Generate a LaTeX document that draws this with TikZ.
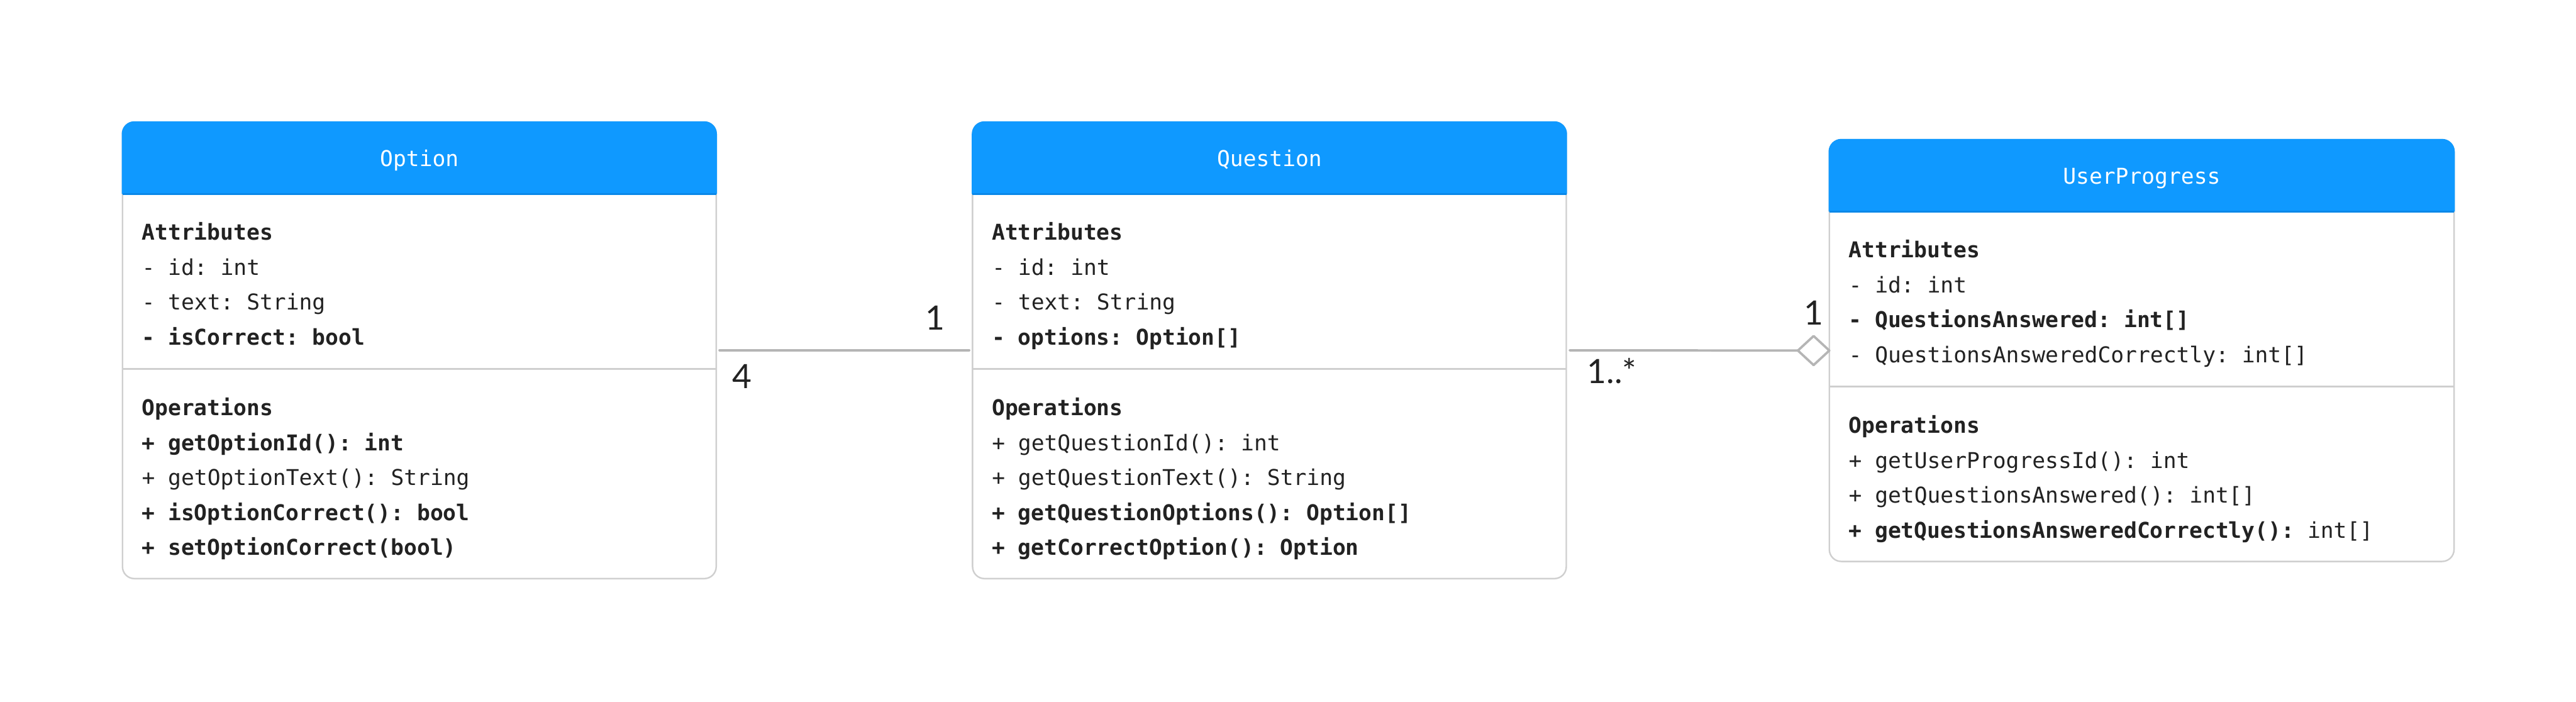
\documentclass[tikz,border=0pt]{standalone}
\usepackage{fontspec}
\setmonofont{DejaVu Sans Mono}
\newfontfamily\multfont{Lato}
\usepackage{tikz}
\usetikzlibrary{positioning,shapes.geometric}
\definecolor{hdblue}{HTML}{0F99FF}
\definecolor{hdedge}{HTML}{0A88E8}
\definecolor{rulec}{HTML}{CFCFCF}
\definecolor{linkc}{HTML}{B5B5B5}
\definecolor{ink}{HTML}{222222}
\tikzset{
  cls/.style={draw=rulec,line width=0.9pt,rounded corners=2.5mm,fill=white,
    inner sep=0pt,outer sep=0pt},
  head/.style={fill=hdblue,draw=hdblue,line width=0.9pt,rounded corners=2.5mm},
  headrule/.style={draw=hdedge,line width=0.9pt},
  sep/.style={draw=rulec,line width=0.9pt},
  ttl/.style={inner sep=0pt,text height=5.3mm,text depth=1.9mm,
    font=\fontsize{13}{16}\selectfont\ttfamily,text=white},
  row/.style={anchor=north west,inner sep=0pt,text height=5.3mm,text depth=1.9mm,
    font=\fontsize{13}{16}\selectfont\ttfamily,text=ink},
  link/.style={draw=linkc,line width=1.4pt,line cap=round},
  agg/.style={diamond,draw=linkc,fill=white,line width=1.4pt,line join=round,
    minimum width=6.6mm,minimum height=6.1mm,inner sep=0pt,outer sep=0pt},
  mult/.style={anchor=base,inner sep=0pt,font=\fontsize{20}{24}\selectfont\multfont,text=ink},
}

\begin{document}
\begin{tikzpicture}
  \useasboundingbox (0,0) rectangle (54.06,-14.72);
  \node[cls,minimum width=124.6mm,minimum height=95.8mm] (opt) at (8.80,-7.35) {};
  \node[cls,minimum width=124.6mm,minimum height=95.8mm] (qst) at (26.64,-7.35) {};
  \node[cls,minimum width=131.1mm,minimum height=88.5mm] (usr) at (44.945,-7.355) {};
  % --- class Option ---
  \filldraw[head] ([yshift=-15.1mm]opt.north west) -- (opt.north west) -- (opt.north east) -- ([yshift=-15.1mm]opt.north east);
  \draw[headrule] ([yshift=-15.1mm]opt.north west) -- ([yshift=-15.1mm]opt.north east);
  \draw[sep] ([yshift=-51.8mm]opt.north west) -- ([yshift=-51.8mm]opt.north east);
  \node[ttl] (optT) at ([yshift=-7.55mm]opt.north) {Option};
  \node[row] (o1) at ([shift={(4mm,-19.4mm)}]opt.north west) {\bfseries Attributes};
  \node[row] (o2) at (o1.south west) {- id: int};
  \node[row] (o3) at (o2.south west) {- text: String};
  \node[row] (o4) at (o3.south west) {\bfseries - isCorrect: bool};
  \node[row] (o5) at ([shift={(4mm,-56.2mm)}]opt.north west) {\bfseries Operations};
  \node[row] (o6) at (o5.south west) {\bfseries + getOptionId(): int};
  \node[row] (o7) at (o6.south west) {+ getOptionText(): String};
  \node[row] (o8) at (o7.south west) {\bfseries + isOptionCorrect(): bool};
  \node[row] (o9) at (o8.south west) {\bfseries + setOptionCorrect(bool)};
  % --- class Question ---
  \filldraw[head] ([yshift=-15.1mm]qst.north west) -- (qst.north west) -- (qst.north east) -- ([yshift=-15.1mm]qst.north east);
  \draw[headrule] ([yshift=-15.1mm]qst.north west) -- ([yshift=-15.1mm]qst.north east);
  \draw[sep] ([yshift=-51.8mm]qst.north west) -- ([yshift=-51.8mm]qst.north east);
  \node[ttl] (qstT) at ([yshift=-7.55mm]qst.north) {Question};
  \node[row] (q1) at ([shift={(4mm,-19.4mm)}]qst.north west) {\bfseries Attributes};
  \node[row] (q2) at (q1.south west) {- id: int};
  \node[row] (q3) at (q2.south west) {- text: String};
  \node[row] (q4) at (q3.south west) {\bfseries - options: Option[]};
  \node[row] (q5) at ([shift={(4mm,-56.2mm)}]qst.north west) {\bfseries Operations};
  \node[row] (q6) at (q5.south west) {+ getQuestionId(): int};
  \node[row] (q7) at (q6.south west) {+ getQuestionText(): String};
  \node[row] (q8) at (q7.south west) {\bfseries + getQuestionOptions(): Option[]};
  \node[row] (q9) at (q8.south west) {\bfseries + getCorrectOption(): Option};
  % --- class UserProgress ---
  \filldraw[head] ([yshift=-15.1mm]usr.north west) -- (usr.north west) -- (usr.north east) -- ([yshift=-15.1mm]usr.north east);
  \draw[headrule] ([yshift=-15.1mm]usr.north west) -- ([yshift=-15.1mm]usr.north east);
  \draw[sep] ([yshift=-51.8mm]usr.north west) -- ([yshift=-51.8mm]usr.north east);
  \node[ttl] (usrT) at ([yshift=-7.55mm]usr.north) {UserProgress};
  \node[row] (u1) at ([shift={(4mm,-19.4mm)}]usr.north west) {\bfseries Attributes};
  \node[row] (u2) at (u1.south west) {- id: int};
  \node[row] (u3) at (u2.south west) {\bfseries - QuestionsAnswered: int[]};
  \node[row] (u4) at (u3.south west) {- QuestionsAnsweredCorrectly: int[]};
  \node[row] (u5) at ([shift={(4mm,-56.2mm)}]usr.north west) {\bfseries Operations};
  \node[row] (u6) at (u5.south west) {+ getUserProgressId(): int};
  \node[row] (u7) at (u6.south west) {+ getQuestionsAnswered(): int[]};
  \node[row] (u8) at (u7.south west) {{\bfseries + getQuestionsAnsweredCorrectly():} int[]};
  % --- associations ---
  \draw[link,shorten <=0.7mm,shorten >=0.7mm] (opt.east) -- (qst.west);
  \node[agg,anchor=east] (aggd) at (usr.west) {};
  \draw[link,shorten <=0.7mm] (qst.east) -- (aggd.west);
  \node[mult] (m4) at ([shift={(5.4mm,-8.0mm)}]opt.east) {4};
  \node[mult] (m1a) at ([shift={(-7.9mm,4.3mm)}]qst.west) {1};
  \node[mult,anchor=base west] (mn) at ([shift={(4.3mm,-7.0mm)}]qst.east) {1..*};
  \node[mult] (m1b) at ([shift={(-3.3mm,5.4mm)}]usr.west) {1};
\end{tikzpicture}
\end{document}
